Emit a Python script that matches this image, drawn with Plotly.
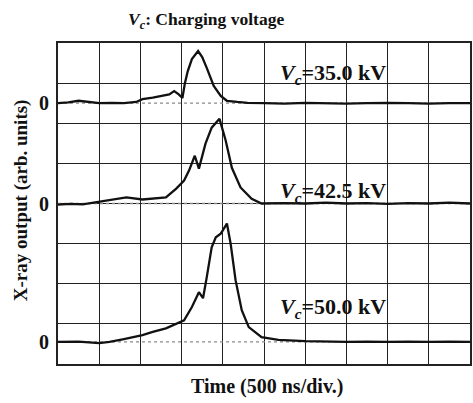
import plotly.graph_objects as go

# Time in divisions (500 ns/div), output in vertical divisions
x1 = [0, 0.25, 0.5, 0.75, 1.0, 1.3, 1.6, 1.9, 2.05, 2.3, 2.55, 2.7, 2.82, 2.93, 3.02, 3.08, 3.15, 3.25,
      3.4, 3.5, 3.61, 3.7, 3.78, 3.95, 4.1, 4.35, 4.6, 5.0, 5.5, 6.0, 6.5, 7.0, 7.5, 8.0, 8.5, 9.0, 9.5, 10]
y1 = [6.5, 6.52, 6.56, 6.53, 6.5, 6.51, 6.5, 6.53, 6.6, 6.64, 6.68, 6.72, 6.8, 6.72, 6.63, 7.0, 7.3, 7.6,
      7.8, 7.65, 7.38, 7.15, 6.93, 6.68, 6.56, 6.53, 6.51, 6.5, 6.49, 6.51, 6.5, 6.49, 6.5, 6.51, 6.5, 6.49, 6.5, 6.5]

x2 = [0, 0.3, 0.6, 1.0, 1.3, 1.66, 2.05, 2.3, 2.62, 2.87, 3.06, 3.18, 3.32, 3.42, 3.58, 3.73, 3.92,
      4.07, 4.22, 4.43, 4.7, 4.94, 5.5, 6.0, 6.5, 7.0, 7.5, 8.0, 8.5, 9.0, 9.5, 10]
y2 = [3.97, 3.99, 3.98, 4.05, 4.1, 4.15, 4.1, 4.12, 4.15, 4.37, 4.57, 4.82, 5.19, 4.87, 5.49, 5.89, 6.11,
      5.57, 4.89, 4.4, 4.12, 4.0, 4.01, 4.0, 4.02, 4.0, 4.01, 3.99, 4.01, 4.0, 4.02, 4.0]

x3 = [0, 0.5, 1.0, 1.25, 1.6, 2.05, 2.3, 2.62, 3.06, 3.25, 3.42, 3.52, 3.61, 3.73, 3.83, 3.95, 4.0,
      4.1, 4.19, 4.31, 4.46, 4.63, 4.94, 5.35, 6.0, 6.5, 7.0, 7.5, 8.0, 8.5, 9.0, 9.5, 10]
y3 = [0.55, 0.56, 0.52, 0.55, 0.62, 0.72, 0.8, 0.89, 1.09, 1.42, 1.79, 1.64, 2.16, 2.91, 3.16, 3.25, 3.33,
      3.5, 3.0, 2.09, 1.34, 0.92, 0.67, 0.6, 0.57, 0.56, 0.55, 0.56, 0.55, 0.56, 0.55, 0.56, 0.55]

baselines = [6.5, 4.0, 0.55]
zero_labels = ["0", "0", "0"]
voltage_labels = ["=35.0 kV", "=42.5 kV", "=50.0 kV"]
label_y = [7.22, 4.28, 1.39]

title_text = "<i>V</i><sub><i>c</i></sub>: Charging voltage"
x_title = "Time (500 ns/div.)"
y_title = "X-ray output (arb. units)"

SERIF = "Liberation Serif"
fig = go.Figure()

for b in baselines:
    fig.add_trace(go.Scatter(x=[0, 10], y=[b, b], mode="lines",
                             line=dict(color="#8a8a8a", width=1.3, dash="dot"),
                             hoverinfo="skip", showlegend=False))

for xs, ys in [(x1, y1), (x2, y2), (x3, y3)]:
    fig.add_trace(go.Scatter(x=xs, y=ys, mode="lines",
                             line=dict(color="#111111", width=2.3),
                             showlegend=False))

axis_common = dict(showgrid=True, gridcolor="#222222", gridwidth=1.3, dtick=1, tick0=0,
                   showticklabels=False, ticks="", zeroline=False,
                   showline=True, linecolor="#222222", linewidth=1.6, mirror=True)

fig.update_layout(
    width=473, height=403,
    margin=dict(l=58, r=1, t=43, b=39),
    paper_bgcolor="white", plot_bgcolor="white",
    xaxis=dict(range=[0, 10], **axis_common),
    yaxis=dict(range=[0, 8], **axis_common),
    font=dict(family=SERIF, color="#111111"),
    title=dict(text="<b>%s</b>" % title_text, xref="container", x=128 / 473, xanchor="left",
               yref="container", y=1 - 19 / 403, yanchor="middle",
               font=dict(family=SERIF, size=17.5)),
)

anns = []
for b, t in zip(baselines, zero_labels):
    anns.append(dict(xref="paper", yref="y", x=-(58 - 51) / 414, y=b, text="<b>%s</b>" % t,
                     showarrow=False, xanchor="right", yanchor="middle",
                     font=dict(family=SERIF, size=20)))
for ly, t in zip(label_y, voltage_labels):
    anns.append(dict(xref="x", yref="y", x=5.35, y=ly,
                     text="<b><i>V</i><sub><i>c</i></sub>%s</b>" % t,
                     showarrow=False, xanchor="left", yanchor="middle",
                     font=dict(family=SERIF, size=22)))
anns.append(dict(xref="paper", yref="paper", x=(268 - 58) / 414, y=-(387 - 364) / 321,
                 text="<b>%s</b>" % x_title, showarrow=False, xanchor="center",
                 yanchor="middle", font=dict(family=SERIF, size=20)))
anns.append(dict(xref="paper", yref="paper", x=-(58 - 21) / 414, y=(364 - 200) / 321,
                 text="<b>%s</b>" % y_title, showarrow=False, xanchor="center",
                 yanchor="middle", textangle=-90, font=dict(family=SERIF, size=19)))
fig.update_layout(annotations=anns)

fig.write_html("out.html")
